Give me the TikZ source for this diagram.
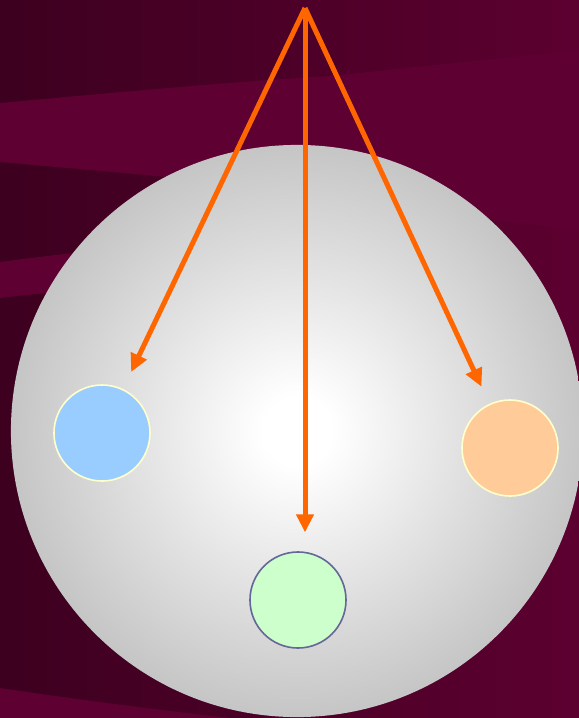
\documentclass[tikz,border=0pt]{standalone}
\usetikzlibrary{arrows.meta}
\definecolor{winedark}{HTML}{3D001F}
\definecolor{winelight}{HTML}{5C0030}
\definecolor{band}{HTML}{5E0032}
\definecolor{ballgray}{HTML}{C0C0C0}
\definecolor{pointer}{HTML}{FF6600}
\definecolor{skyfill}{HTML}{99CCFF}
\definecolor{peachfill}{HTML}{FFCC99}
\definecolor{mintfill}{HTML}{CCFFCC}
\definecolor{creamline}{HTML}{FFFFCC}
\definecolor{slateline}{HTML}{666699}
\pgfdeclareradialshading{ballglow}{\pgfpoint{0bp}{0bp}}{%
  color(0bp)=(white); color(3bp)=(white);
  color(27bp)=(ballgray); color(50bp)=(ballgray)}
\tikzset{
  pointerarrow/.style={
    -{Triangle[length=0.45cm,width=0.42cm]},
    line width=0.125cm,
    draw=pointer,
    shorten >=0.47cm
  },
  globe/.style={
    circle,
    minimum size=14.3cm,
    inner sep=0pt,
    shading=ballglow
  },
  bead/.style={
    circle,
    minimum size=2.4cm,
    inner sep=0pt,
    line width=0.04cm
  }
}
\begin{document}
\begin{tikzpicture}[x=0.025cm, y=-0.025cm]
  \useasboundingbox (0,0) rectangle (579,718);
  % background swooshes
  \fill[left color=winedark, right color=winelight] (0,0) rectangle (579,718);
  \fill[band] (0,103) .. controls (120,92) and (230,82) .. (330,76)
    -- (579,50) -- (579,230) .. controls (420,212) and (250,185) .. (146,175)
    -- (0,162) -- cycle;
  \fill[band] (0,262) .. controls (50,255) and (100,250) .. (170,245)
    -- (170,284) .. controls (100,288) and (50,292) .. (0,298) -- cycle;
  \fill[band] (0,688) .. controls (80,700) and (160,710) .. (230,718)
    -- (0,718) -- cycle;
  % the ball and the three beads
  \node[globe] (globe) at (297,431) {};
  \coordinate (apex) at (305,8);
  \node[bead, fill=skyfill, draw=creamline] (sky) at (102,433) {};
  \node[bead, fill=peachfill, draw=creamline] (peach) at (510,448) {};
  \node[bead, fill=mintfill, draw=slateline] (mint) at (298,600) {};
  \draw[pointerarrow] (apex) -- (sky);
  \draw[pointerarrow] (apex) -- (peach);
  \draw[pointerarrow] (apex) -- (apex |- mint.north);
\end{tikzpicture}
\end{document}
